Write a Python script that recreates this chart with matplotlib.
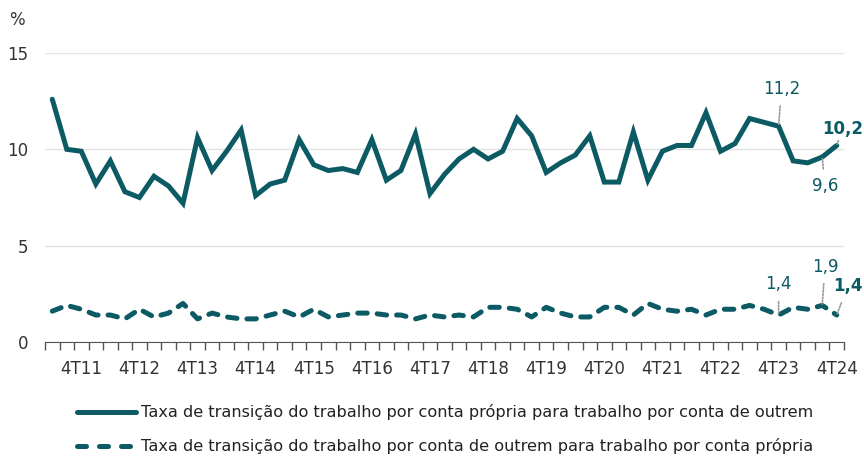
import matplotlib
matplotlib.use("Agg")
import matplotlib.pyplot as plt
from matplotlib.lines import Line2D

# quarters 2T11 .. 4T24
quarters = [f"{q}T{y:02d}" for y in range(11, 25) for q in range(1, 5)][1:]

# taxa: conta própria -> conta de outrem
proprio_outrem = [12.6, 10.0, 9.9, 8.2, 9.4, 7.8, 7.5, 8.6, 8.1, 7.2,
                  10.6, 8.9, 9.9, 11.0, 7.6, 8.2, 8.4, 10.5, 9.2, 8.9,
                  9.0, 8.8, 10.5, 8.4, 8.9, 10.8, 7.7, 8.7, 9.5, 10.0,
                  9.5, 9.9, 11.6, 10.7, 8.8, 9.3, 9.7, 10.7, 8.3, 8.3,
                  10.9, 8.4, 9.9, 10.2, 10.2, 11.9, 9.9, 10.3, 11.6, 11.4,
                  11.2, 9.4, 9.3, 9.6, 10.2]
# taxa: conta de outrem -> conta própria
outrem_proprio = [1.6, 1.9, 1.7, 1.4, 1.4, 1.2, 1.7, 1.3, 1.5, 2.0,
                  1.2, 1.5, 1.3, 1.2, 1.2, 1.4, 1.6, 1.3, 1.7, 1.3,
                  1.4, 1.5, 1.5, 1.4, 1.4, 1.2, 1.4, 1.3, 1.4, 1.3,
                  1.8, 1.8, 1.7, 1.3, 1.8, 1.5, 1.3, 1.3, 1.8, 1.8,
                  1.4, 2.0, 1.7, 1.6, 1.7, 1.4, 1.7, 1.7, 1.9, 1.7,
                  1.4, 1.8, 1.7, 1.9, 1.4]

labels = ["Taxa de transição do trabalho por conta própria para trabalho por conta de outrem",
          "Taxa de transição do trabalho por conta de outrem para trabalho por conta própria"]

teal = "#0b5a64"
grey = "#333333"
plt.rcParams['font.family'] = ['DejaVu Sans']

fig = plt.figure(figsize=(8.64, 4.58), dpi=100)
ax = fig.add_axes([45/864, 1-342/458, (844-45)/864, (342-53)/458])

x = list(range(len(quarters)))
ax.plot(x, proprio_outrem, color=teal, lw=3.6, solid_capstyle='round', solid_joinstyle='miter', zorder=3)
ax.plot(x, outrem_proprio, color=teal, lw=3.6, dashes=(1.9, 2.0), dash_capstyle='round', zorder=3)

ax.set_xlim(-0.5, len(quarters) - 0.5)
ax.set_ylim(0, 15)
ax.set_yticks([0, 5, 10, 15])
ax.yaxis.grid(True, color="#e3e3e3", lw=1)
ax.set_axisbelow(True)

lab_pos = [i for i, q in enumerate(quarters) if q.startswith("4T")]
ax.set_xticks(lab_pos)
ax.set_xticklabels([quarters[i] for i in lab_pos])
ax.set_xticks([i - 0.5 for i in range(len(quarters) + 1)], minor=True)
ax.tick_params(axis='x', which='major', length=0, pad=13, labelsize=12, labelcolor=grey)
ax.tick_params(axis='x', which='minor', length=6, width=1, color="#555555", direction='out')
ax.tick_params(axis='y', length=0, pad=12, labelsize=12, labelcolor=grey)
for s in ['left', 'right', 'top']:
    ax.spines[s].set_visible(False)
ax.spines['bottom'].set_color("#555555")

fig.text(9/864, 1-20/458, "%", fontsize=12, color=grey, ha='left', va='center')

# annotations
def note(i, val, dx, dy, bold=False, ha='center'):
    ax.annotate(f"{val:.1f}".replace(".", ","), xy=(i, val), xytext=(dx, dy),
                textcoords='offset points', ha=ha, va='center', fontsize=12,
                color=teal, fontweight='bold' if bold else 'normal',
                arrowprops=dict(arrowstyle='-', color="#999999", lw=1.2, ls=(0, (1, 1)),
                                shrinkA=4, shrinkB=1))

n = len(quarters) - 1
note(n - 4, proprio_outrem[n - 4], 2, 27)
note(n - 1, proprio_outrem[n - 1], 2, -21)
note(n, proprio_outrem[n], 4, 12, bold=True)
note(n - 4, outrem_proprio[n - 4], 0, 22)
note(n - 1, outrem_proprio[n - 1], 2, 28)
note(n, outrem_proprio[n], 8, 21, bold=True)

handles = [Line2D([], [], color=teal, lw=3.6, solid_capstyle='round'),
           Line2D([], [], color=teal, lw=3.6, dashes=(1.8, 2.6), dash_capstyle='round')]
fig.legend(handles, labels, loc='upper left', bbox_to_anchor=(62/864, 1-390/458),
           frameon=False, fontsize=11.6, handlelength=3.7, handletextpad=0.3,
           labelspacing=1.1, labelcolor="#222222")

fig.savefig("out.png", dpi=100)
